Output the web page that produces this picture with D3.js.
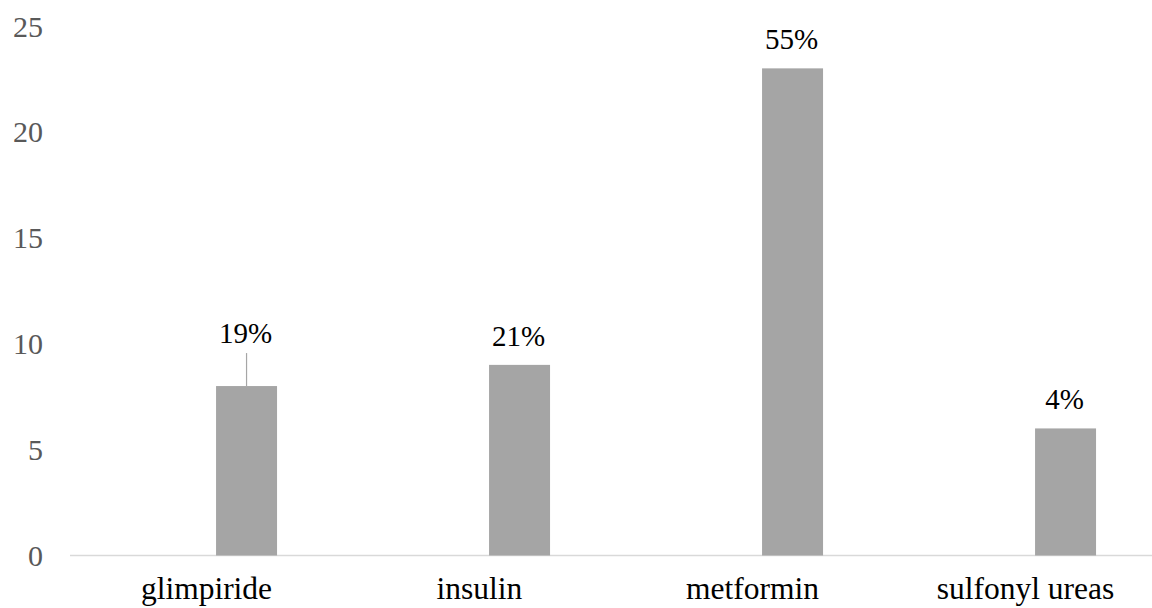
<!DOCTYPE html>
<html><head><meta charset="utf-8">
<script src="https://cdn.jsdelivr.net/npm/d3@7"></script>
<style>body{margin:0;background:#fff}svg{display:block}
text{font-family:"Liberation Serif","Times New Roman",Times,Tinos,"DejaVu Serif",serif}</style>
</head><body>
<script>
const categories = ["glimpiride", "insulin", "metformin", "sulfonyl ureas"];
const values = [8, 9, 23, 6];
const pctLabels = ["19%", "21%", "55%", "4%"];
const yTicks = [0, 5, 10, 15, 20, 25];

const W = 1152, H = 608;
const svg = d3.select("body").append("svg").attr("width", W).attr("height", H);

const x = d3.scaleBand().domain(categories).range([70, 1162]).padding(0);
const y = d3.scaleLinear().domain([0, 25]).range([555.5, 26]);

// y tick labels
svg.append("g").selectAll("text").data(yTicks).join("text")
  .attr("x", 43).attr("y", d => y(d)).attr("dy", "0.35em")
  .attr("text-anchor", "end").style("font-size", "30px")
  .attr("fill", "#595959").text(d => d);

// baseline axis
svg.append("line").attr("x1", 70).attr("x2", W).attr("y1", y(0)).attr("y2", y(0))
  .attr("stroke", "#d9d9d9").attr("stroke-width", 1.5);

const bw = x.bandwidth() * 0.2234;
const bx = d => x(d) + x.bandwidth() * 0.535;

svg.append("g").selectAll("rect").data(categories).join("rect")
  .attr("x", d => bx(d)).attr("width", bw)
  .attr("y", (d, i) => y(values[i])).attr("height", (d, i) => y(0) - y(values[i]))
  .attr("fill", "#a5a5a5");

// category labels
svg.append("g").selectAll("text").data(categories).join("text")
  .attr("x", d => x(d) + x.bandwidth() / 2).attr("y", 599)
  .attr("text-anchor", "middle").style("font-size", "31.5px")
  .attr("fill", "#000").text(d => d);

// data labels (first one lifted with a leader line)
const lift = [24, 0, 0, 0];
svg.append("g").selectAll("text").data(categories).join("text")
  .attr("x", d => bx(d) + bw / 2 - 1).attr("y", (d, i) => y(values[i]) - 19 - lift[i])
  .attr("text-anchor", "middle").style("font-size", "29px")
  .attr("fill", "#000").text((d, i) => pctLabels[i]);

svg.append("line")
  .attr("x1", bx(categories[0]) + bw / 2).attr("x2", bx(categories[0]) + bw / 2)
  .attr("y1", y(values[0]) - 33).attr("y2", y(values[0]))
  .attr("stroke", "#a6a6a6").attr("stroke-width", 1.2);
</script>
</body></html>
